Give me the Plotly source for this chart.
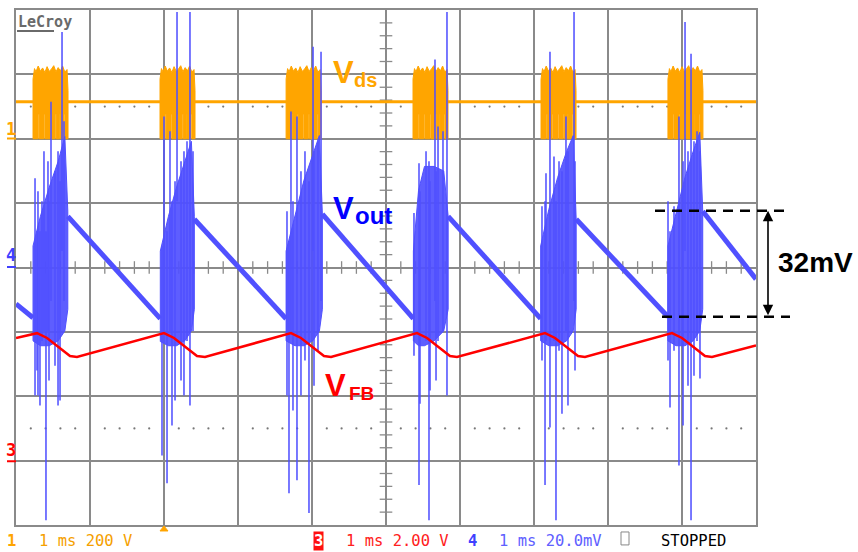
import plotly.graph_objects as go

# ------------------------------------------------------------------ data
# time axis: 1 ms/div, 10 divisions
# Vds (channel 1, 200 V/div): flat level and switching bursts
vds_level_t = [0.0, 10.0]
vds_level_v = [114.6, 114.6]
vds_burst_start = [0.23, 1.946, 3.65, 5.365, 7.095, 8.81]
vds_burst_top_off = [0.00, 0.00, 0.02, 0.04, 0.07, 0.10, 0.13, 0.16, 0.19, 0.22,
                     0.25, 0.28, 0.31, 0.34, 0.37, 0.40, 0.43, 0.46, 0.473]
vds_burst_top_v = [120, 185, 218, 208, 226, 210, 220, 206, 224, 209,
                   217, 227, 208, 221, 211, 226, 207, 215, 150]
vds_burst_len = 0.473
vds_gap_off = [0.07, 0.15, 0.23, 0.30, 0.36, 0.42]
vds_gap_top = 77.0

# Vout (channel 4, 20 mV/div): ramp segments between bursts (mV)
vout_ramp_t = [0.0, 0.23, None, 0.70, 1.95, None, 2.41, 3.65, None,
               4.14, 5.37, None, 5.84, 7.09, None, 7.57, 8.81, None, 9.28, 10.0]
vout_ramp_mv = [-11.3, -15.6, None, 15.9, -15.9, None, 15.0, -15.9, None,
                16.6, -15.9, None, 15.9, -15.9, None, 15.0, -15.3, None, 17.5, -3.6]

# Vout burst envelopes (dense part) per burst
core_t = [
    [0.23, 0.33, 0.45, 0.57, 0.66, 0.70],
    [1.95, 2.06, 2.17, 2.28, 2.37, 2.41],
    [3.65, 3.77, 3.89, 4.01, 4.10, 4.14],
    [5.37, 5.44, 5.52, 5.65, 5.78, 5.84],
    [7.09, 7.20, 7.32, 7.44, 7.53, 7.57],
    [8.81, 8.92, 9.04, 9.15, 9.24, 9.28],
]
core_top = [
    [6.7, 15.9, 25.0, 33.0, 40.7, 17.5],
    [5.1, 15.9, 25.0, 33.0, 39.2, 15.9],
    [5.1, 15.9, 27.0, 35.0, 41.0, 16.6],
    [5.1, 24.0, 31.4, 31.4, 30.0, 15.9],
    [6.7, 18.0, 28.0, 36.0, 41.0, 15.0],
    [6.7, 17.0, 28.0, 36.0, 42.0, 17.5],
]
core_bot = [
    [-22.8, -24.3, -24.3, -22.8, -19.7, -13.0],
    [-23.0, -24.3, -24.3, -22.8, -19.7, -13.0],
    [-22.8, -24.3, -24.3, -22.8, -19.7, -13.0],
    [-22.8, -24.3, -24.3, -22.8, -19.7, -13.0],
    [-22.8, -24.3, -24.3, -22.8, -19.7, -13.0],
    [-22.8, -24.3, -24.3, -22.8, -19.7, -13.0],
]

# Vout ringing spikes per burst (ms, top mV, bottom mV)
spike_t = [
    [0.257, 0.284, 0.297, 0.324, 0.351, 0.378, 0.405, 0.432, 0.446, 0.473, 0.527, 0.568, 0.595, 0.622, 0.649],
    [1.973, 2.000, 2.041, 2.081, 2.108, 2.149, 2.176, 2.230, 2.270, 2.311, 2.351, 2.392],
    [3.662, 3.689, 3.716, 3.743, 3.797, 3.851, 3.905, 3.959, 4.014, 4.027, 4.081, 4.122],
    [5.378, 5.446, 5.459, 5.541, 5.581, 5.595, 5.662, 5.676, 5.703, 5.770, 5.824],
    [7.108, 7.149, 7.162, 7.216, 7.270, 7.297, 7.338, 7.378, 7.432, 7.459, 7.541, 7.554],
    [8.811, 8.838, 8.892, 8.959, 9.014, 9.041, 9.081, 9.122, 9.162, 9.203, 9.243],
]
spike_hi = [
    [27.7, 11.3, 23.7, 11.3, 20.6, 36.1, 11.3, 33.0, 20.6, 51.5, 29.9, 36.1, 26.8, 73.2, 45.4],
    [6.7, 46.9, 11.3, 42.3, 20.6, 26.8, 79.4, 33.0, 36.1, 39.2, 79.4, 36.1],
    [17.5, 8.2, 48.5, 20.6, 46.9, 29.9, 36.1, 26.8, 68.6, 36.1, 39.2, 67.0],
    [16.9, 32.4, 23.7, 36.1, 33.0, 26.8, 64.6, 29.9, 43.8, 42.3, 79.4],
    [19.0, 20.6, 29.3, 67.0, 34.5, 20.6, 33.0, 29.9, 46.9, 36.1, 79.4, 33.0],
    [20.6, 11.3, 19.0, 46.9, 33.0, 76.3, 36.1, 66.4, 39.2, 42.3, 36.1],
]
spike_lo = [
    [-39.8, -32.0, -39.8, -42.9, -22.8, -19.7, -78.5, -19.7, -35.1, -10.4, -30.5, -42.9, -41.3, 5.1, -10.4],
    [-58.4, -19.7, -67.0, -19.7, -49.1, -41.3, 20.6, -35.1, -39.8, -22.8, -42.9, -19.7],
    [-39.8, -70.1, -19.7, -44.4, -66.1, -39.8, -28.9, -76.3, 5.1, -36.7, -25.9, -10.4],
    [-27.4, -67.6, -42.3, -22.8, -78.5, -38.2, -10.4, -35.1, -22.8, -19.7, -39.8],
    [-28.9, -67.6, -22.8, -49.7, -22.8, -78.5, -25.9, -45.4, -19.7, -42.9, -10.4, -32.0],
    [-28.9, -43.5, -25.9, -61.5, -49.1, 5.1, -36.7, -78.5, -33.6, -22.8, -34.5],
]

# VFB (channel 3, 2 V/div)
vfb_t = [0.0, 0.284, 0.419, 0.595, 0.730, 0.824,
         2.000, 2.135, 2.311, 2.446, 2.554,
         3.716, 3.851, 4.027, 4.162, 4.257,
         5.419, 5.554, 5.730, 5.865, 5.959,
         7.149, 7.284, 7.459, 7.595, 7.689,
         8.865, 9.000, 9.176, 9.311, 9.405, 10.0]
vfb_v = [3.81, 3.96, 3.81, 3.50, 3.25, 3.22,
         3.96, 3.81, 3.50, 3.25, 3.22,
         3.96, 3.81, 3.50, 3.25, 3.22,
         3.96, 3.81, 3.50, 3.25, 3.22,
         3.96, 3.81, 3.50, 3.25, 3.22,
         3.96, 3.81, 3.50, 3.25, 3.22, 3.58]

# measurement markers (mV)
meas_top_mv = 17.6
meas_bot_mv = -15.3

# ------------------------------------------------------------------ layout helpers
W, H = 858, 552
ML, MR, MT, MB = 16, 102, 8, 27
PW, PH = W - ML - MR, H - MT - MB


def px(x):
    return (x - ML) / PW


def py(y):
    return (H - MB - y) / PH


ORANGE = '#ffa500'
BLUE = '#5050ff'
RED = '#ff0000'
GRID = '#8a8a8a'
MONO = 'DejaVu Sans Mono'
SANS = 'Liberation Sans, Arial, sans-serif'

fig = go.Figure()

# dotted reference rows and centre-line minor ticks
dot_x = [k * 0.2 for k in range(1, 50) if k % 5]
fig.add_trace(go.Scatter(x=dot_x + dot_x, y=[2.5] * len(dot_x) + [-2.5] * len(dot_x),
                         mode='markers', marker=dict(size=2.2, color='#777777'),
                         hoverinfo='skip', showlegend=False))
fig.add_trace(go.Scatter(x=dot_x, y=[0] * len(dot_x), mode='markers',
                         marker=dict(symbol='line-ns', size=9, line=dict(width=1.3, color=GRID)),
                         hoverinfo='skip', showlegend=False))
tick_y = [k * 0.2 for k in range(-19, 20) if k % 5]
fig.add_trace(go.Scatter(x=[5] * len(tick_y), y=tick_y, mode='markers',
                         marker=dict(symbol='line-ew', size=9, line=dict(width=1.3, color=GRID)),
                         hoverinfo='skip', showlegend=False))

# Vds
fig.add_trace(go.Scatter(x=vds_level_t, y=vds_level_v, yaxis='y2', mode='lines',
                         line=dict(color=ORANGE, width=3), hoverinfo='skip', showlegend=False))
bx, by = [], []
for s in vds_burst_start:
    bx += [s + o for o in vds_burst_top_off]
    by += list(vds_burst_top_v)
    bx.append(s + vds_burst_len)
    by.append(0)
    for g in reversed(vds_gap_off):
        bx += [s + g + 0.012, s + g + 0.012, s + g, s + g]
        by += [0, vds_gap_top, vds_gap_top, 0]
    bx += [s, s, None]
    by += [0, vds_burst_top_v[0], None]
fig.add_trace(go.Scatter(x=bx, y=by, yaxis='y2', mode='lines', fill='toself',
                         fillcolor=ORANGE, line=dict(color=ORANGE, width=1),
                         hoverinfo='skip', showlegend=False))

# Vout
fig.add_trace(go.Scatter(x=vout_ramp_t, y=vout_ramp_mv, yaxis='y3', mode='lines',
                         line=dict(color=BLUE, width=5), connectgaps=False,
                         hoverinfo='skip', showlegend=False))
cx, cy = [], []
for t, top, bot in zip(core_t, core_top, core_bot):
    cx += list(t) + list(reversed(t)) + [t[0], None]
    cy += list(top) + list(reversed(bot)) + [top[0], None]
fig.add_trace(go.Scatter(x=cx, y=cy, yaxis='y3', mode='lines', fill='toself',
                         fillcolor='rgba(80,80,255,0.92)', line=dict(color=BLUE, width=1),
                         hoverinfo='skip', showlegend=False))
sx, sy = [], []
for ts, his, los in zip(spike_t, spike_hi, spike_lo):
    for t, hi, lo in zip(ts, his, los):
        sx += [t, t, None]
        sy += [hi, lo, None]
fig.add_trace(go.Scatter(x=sx, y=sy, yaxis='y3', mode='lines',
                         line=dict(color='rgba(80,80,255,0.85)', width=1.8),
                         hoverinfo='skip', showlegend=False))

# VFB
fig.add_trace(go.Scatter(x=vfb_t, y=vfb_v, yaxis='y4', mode='lines',
                         line=dict(color=RED, width=2.5), hoverinfo='skip', showlegend=False))

axis_common = dict(showticklabels=False, zeroline=False, ticks='', fixedrange=True)
fig.update_layout(
    width=W, height=H,
    margin=dict(l=ML, r=MR, t=MT, b=MB, pad=0),
    paper_bgcolor='white', plot_bgcolor='white',
    xaxis=dict(range=[0, 10], dtick=1, tick0=0, showgrid=True, gridcolor=GRID, gridwidth=1.6,
               showline=True, mirror=True, linecolor=GRID, linewidth=2, **axis_common),
    yaxis=dict(range=[-4, 4], dtick=1, tick0=0, showgrid=True, gridcolor=GRID, gridwidth=1.6,
               showline=True, mirror=True, linecolor=GRID, linewidth=2, **axis_common),
    yaxis2=dict(range=[-1200, 400], overlaying='y', visible=False, **axis_common),
    yaxis3=dict(range=[-80, 80], overlaying='y', visible=False, **axis_common),
    yaxis4=dict(range=[-2, 14], overlaying='y', visible=False, **axis_common),
    showlegend=False,
)

ann = []
shapes = []


def text(t, x, y, color, size, family=SANS, xanchor='left', yanchor='middle', **kw):
    ann.append(dict(text=t, x=x, y=y, xref='paper', yref='paper', showarrow=False,
                    xanchor=xanchor, yanchor=yanchor,
                    font=dict(color=color, size=size, family=family), **kw))


# trace labels (main letter and subscript placed separately)
text('<b>V</b>', px(331), py(71), ORANGE, 31)
text('<b>ds</b>', px(352), py(78), ORANGE, 20)
text('<b>V</b>', px(331), py(207), '#0000ff', 31)
text('<b>out</b>', px(353), py(214), '#0000ff', 24)
text('<b>V</b>', px(323), py(385), RED, 31)
text('<b>FB</b>', px(347), py(393), RED, 19)
text('<b>32mV</b>', px(776), py(261), 'black', 28)

# LeCroy logo
text('<b>LeCroy</b>', px(16), py(20), '#6a6a6a', 15, family=MONO)
shapes.append(dict(type='line', xref='paper', yref='paper', x0=px(17), x1=px(54),
                   y0=py(29), y1=py(29), line=dict(color='#6a6a6a', width=2)))

# channel level markers on left
for lab, col, ycen, yline in [('1', ORANGE, 127, 137), ('4', '#4040ff', 254, 266), ('3', RED, 450, 461)]:
    text('<b>' + lab + '</b>', px(11), py(ycen), col, 17, family=MONO, xanchor='center')
    shapes.append(dict(type='line', xref='paper', yref='paper', x0=px(7), x1=px(16),
                       y0=py(yline), y1=py(yline), line=dict(color=col, width=2)))

# bottom status line
yb = py(541)
text('<b>1</b>', px(5), yb, ORANGE, 15.5, family=MONO)
text('1 ms 200 V', px(37), yb, '#f5a000', 15.5, family=MONO)
text('<b>3</b>', px(313), yb, 'white', 15.5, family=MONO, bgcolor='#ff1010', borderpad=0)
text('1 ms 2.00 V', px(344), yb, '#ff2020', 15.5, family=MONO)
text('<b>4</b>', px(466), yb, '#4040ff', 15.5, family=MONO)
text('1 ms 20.0mV', px(497), yb, '#6060ff', 15.5, family=MONO)
text('STOPPED', px(659), yb, 'black', 15.5, family=MONO)
shapes.append(dict(type='rect', xref='paper', yref='paper', x0=px(621), x1=px(629),
                   y0=py(545), y1=py(532), line=dict(color='#888888', width=1)))
# trigger marker
shapes.append(dict(type='path', xref='paper', yref='paper',
                   path='M %f,%f L %f,%f L %f,%f Z' % (px(160), py(531), px(168), py(531), px(164), py(526)),
                   fillcolor=ORANGE, line=dict(color=ORANGE, width=1)))

# measurement dashed levels and arrow
shapes.append(dict(type='line', xref='paper', yref='y3', x0=px(655), x1=px(785),
                   y0=meas_top_mv, y1=meas_top_mv, line=dict(color='black', width=2.5, dash='10px,7px')))
shapes.append(dict(type='line', xref='paper', yref='y3', x0=px(662), x1=px(790),
                   y0=meas_bot_mv, y1=meas_bot_mv, line=dict(color='black', width=2.5, dash='10px,7px')))
ann.append(dict(text='', x=px(768), y=meas_top_mv, xref='paper', yref='y3',
                ax=0, ay=meas_bot_mv, axref='pixel', ayref='y3', showarrow=True,
                arrowhead=2, startarrowhead=2, arrowside='end+start', arrowsize=1.3,
                arrowwidth=1.6, arrowcolor='black', standoff=0, startstandoff=0))

fig.update_layout(annotations=ann, shapes=shapes)
fig.write_html('out.html', config={'displayModeBar': False},
               post_script="document.body.style.margin='0px';")
